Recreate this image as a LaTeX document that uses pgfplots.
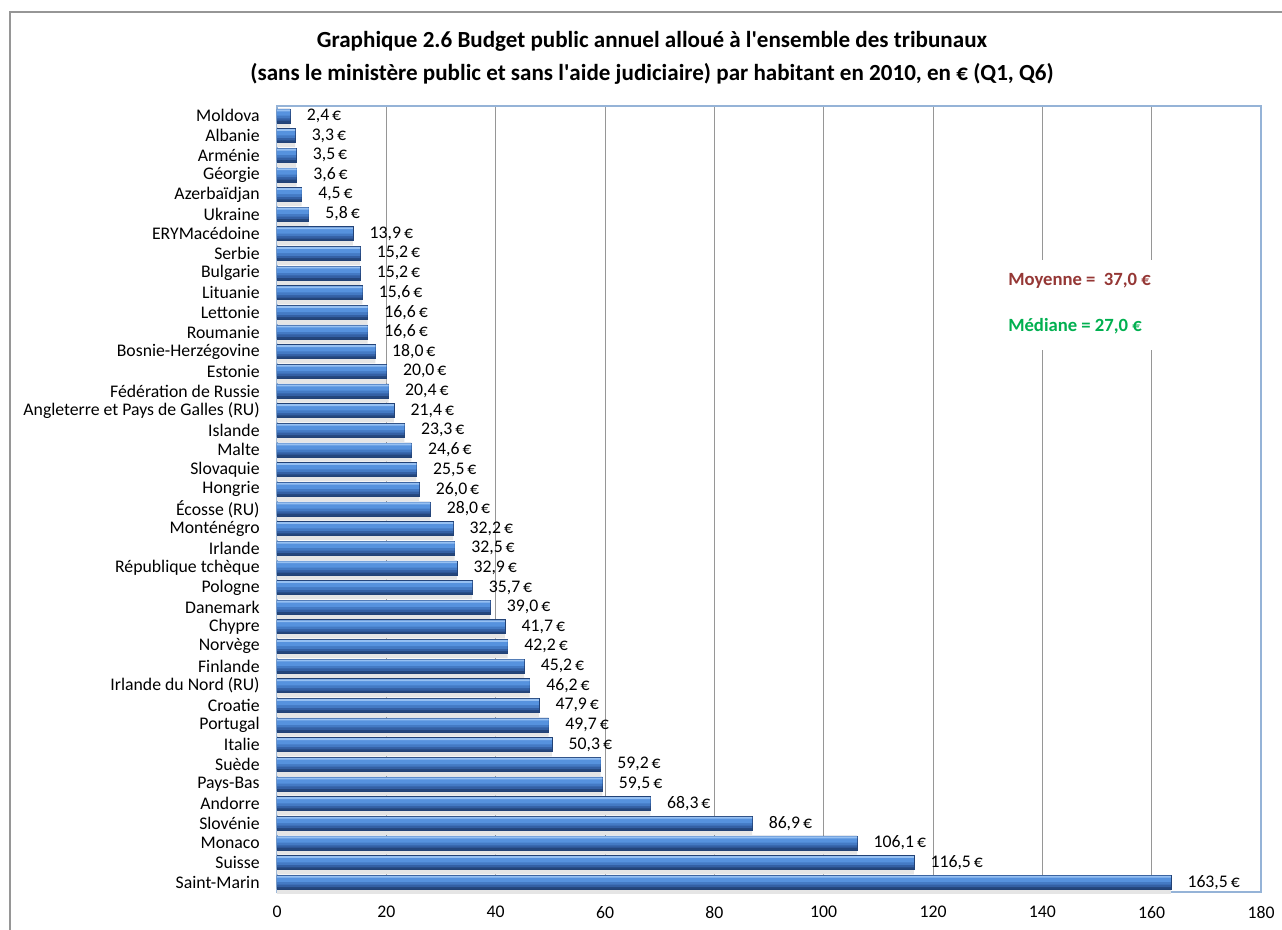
\documentclass[border=0pt]{standalone}
\usepackage{pgfplots}
\usepackage{pgfplotstable}
\pgfplotsset{compat=1.18}
\usepackage{fontspec}
\setmainfont{Carlito}
\definecolor{gridgray}{RGB}{150,150,150}
\definecolor{boxblue}{RGB}{149,179,215}
\definecolor{framegray}{RGB}{150,150,150}
\definecolor{meanred}{RGB}{149,55,53}
\definecolor{medgreen}{RGB}{0,176,80}
\definecolor{barA}{RGB}{36,70,124}
\definecolor{barB}{RGB}{52,96,164}
\definecolor{barC}{RGB}{68,122,196}
\definecolor{barD}{RGB}{86,146,222}
\definecolor{barE}{RGB}{150,192,242}
\definecolor{baredge}{RGB}{34,66,118}
\pgfplotstableread{
v i
2.4 0
3.3 1
3.5 2
3.6 3
4.5 4
5.8 5
13.9 6
15.2 7
15.2 8
15.6 9
16.6 10
16.6 11
18.0 12
20.0 13
20.4 14
21.4 15
23.3 16
24.6 17
25.5 18
26.0 19
28.0 20
32.2 21
32.5 22
32.9 23
35.7 24
39.0 25
41.7 26
42.2 27
45.2 28
46.2 29
47.9 30
49.7 31
50.3 32
59.2 33
59.5 34
68.3 35
86.9 36
106.1 37
116.5 38
163.5 39
}\budget
\begin{document}
\begin{tikzpicture}[x=0.75pt,y=0.75pt]
\useasboundingbox (0,0) rectangle (1282,930);
\fill[white] (0,0) rectangle (1282,930);
\draw[framegray, line width=1.5pt] (10,-20) -- (10,918) -- (1300,918);
\node[font=\fontsize{17.3}{21}\selectfont\bfseries, align=center] at (652,872)
  {Graphique 2.6 Budget public annuel alloué à l\textquotesingle ensemble des tribunaux\\[4pt]
   (sans le ministère public et sans l\textquotesingle aide judiciaire) par habitant en 2010, en € (Q1, Q6)};
\begin{axis}[
  at={(207.75pt,28.5pt)}, anchor=south west,
  scale only axis, width=738pt, height=589.5pt,
  xmin=0, xmax=180, xtick={0,20,...,180},
  ymin=-0.5, ymax=39.5, y dir=reverse,
  ytick={0,...,39},
  yticklabels={Moldova, Albanie, Arménie, Géorgie, Azerbaïdjan, Ukraine, ERYMacédoine, Serbie, Bulgarie, Lituanie, Lettonie, Roumanie, Bosnie-Herzégovine, Estonie, Fédération de Russie, Angleterre et Pays de Galles (RU), Islande, Malte, Slovaquie, Hongrie, Écosse (RU), Monténégro, Irlande, République tchèque, Pologne, Danemark, Chypre, Norvège, Finlande, Irlande du Nord (RU), Croatie, Portugal, Italie, Suède, Pays-Bas, Andorre, Slovénie, Monaco, Suisse, Saint-Marin},
  major tick length=0pt,
  xmajorgrids, major grid style={gridgray, line width=0.6pt},
  axis line style={boxblue, line width=0.8pt},
  tick label style={font=\fontsize{13.3}{15}\selectfont},
  yticklabel style={xshift=-9.5pt},
  xticklabel style={yshift=-7pt},
  /pgf/number format/assume math mode=true,
  clip=false,
]
% floor shadow
\addplot[xbar, bar width=4pt, bar shift=-6.8pt, fill=black!10, draw=none] table[x=v,y=i] {\budget};
% layered bars imitating the 3D gradient
\addplot[xbar, bar width=10.5pt, bar shift=0pt, fill=barA, draw=baredge, line width=0.4pt] table[x=v,y=i] {\budget};
\addplot[xbar, bar width=8.5pt, bar shift=0.6pt, fill=barB, draw=none] table[x=v,y=i] {\budget};
\addplot[xbar, bar width=6.5pt, bar shift=1.4pt, fill=barC, draw=none] table[x=v,y=i] {\budget};
\addplot[xbar, bar width=4.5pt, bar shift=2.4pt, fill=barD, draw=none] table[x=v,y=i] {\budget};
\addplot[xbar, bar width=1.4pt, bar shift=4.1pt, fill=barE, draw=none] table[x=v,y=i] {\budget};
% value labels
\addplot[only marks, mark=none, point meta=x,
  nodes near coords={\pgfmathprintnumber[fixed,fixed zerofill,precision=1,use comma,assume math mode=true]{\pgfplotspointmeta}\,€},
  every node near coord/.append style={anchor=west, xshift=9pt, black, font=\fontsize{13.3}{15}\selectfont}] table[x=v,y=i] {\budget};
\end{axis}
\fill[white] (1000,580) rectangle (1165,670);
\node[anchor=west, inner sep=0pt, font=\fontsize{14}{16}\selectfont\bfseries, text=meanred] at (1008,649) {Moyenne =\ \ 37,0 €};
\node[anchor=west, inner sep=0pt, font=\fontsize{14}{16}\selectfont\bfseries, text=medgreen] at (1008,604) {Médiane = 27,0 €};
\end{tikzpicture}
\end{document}
